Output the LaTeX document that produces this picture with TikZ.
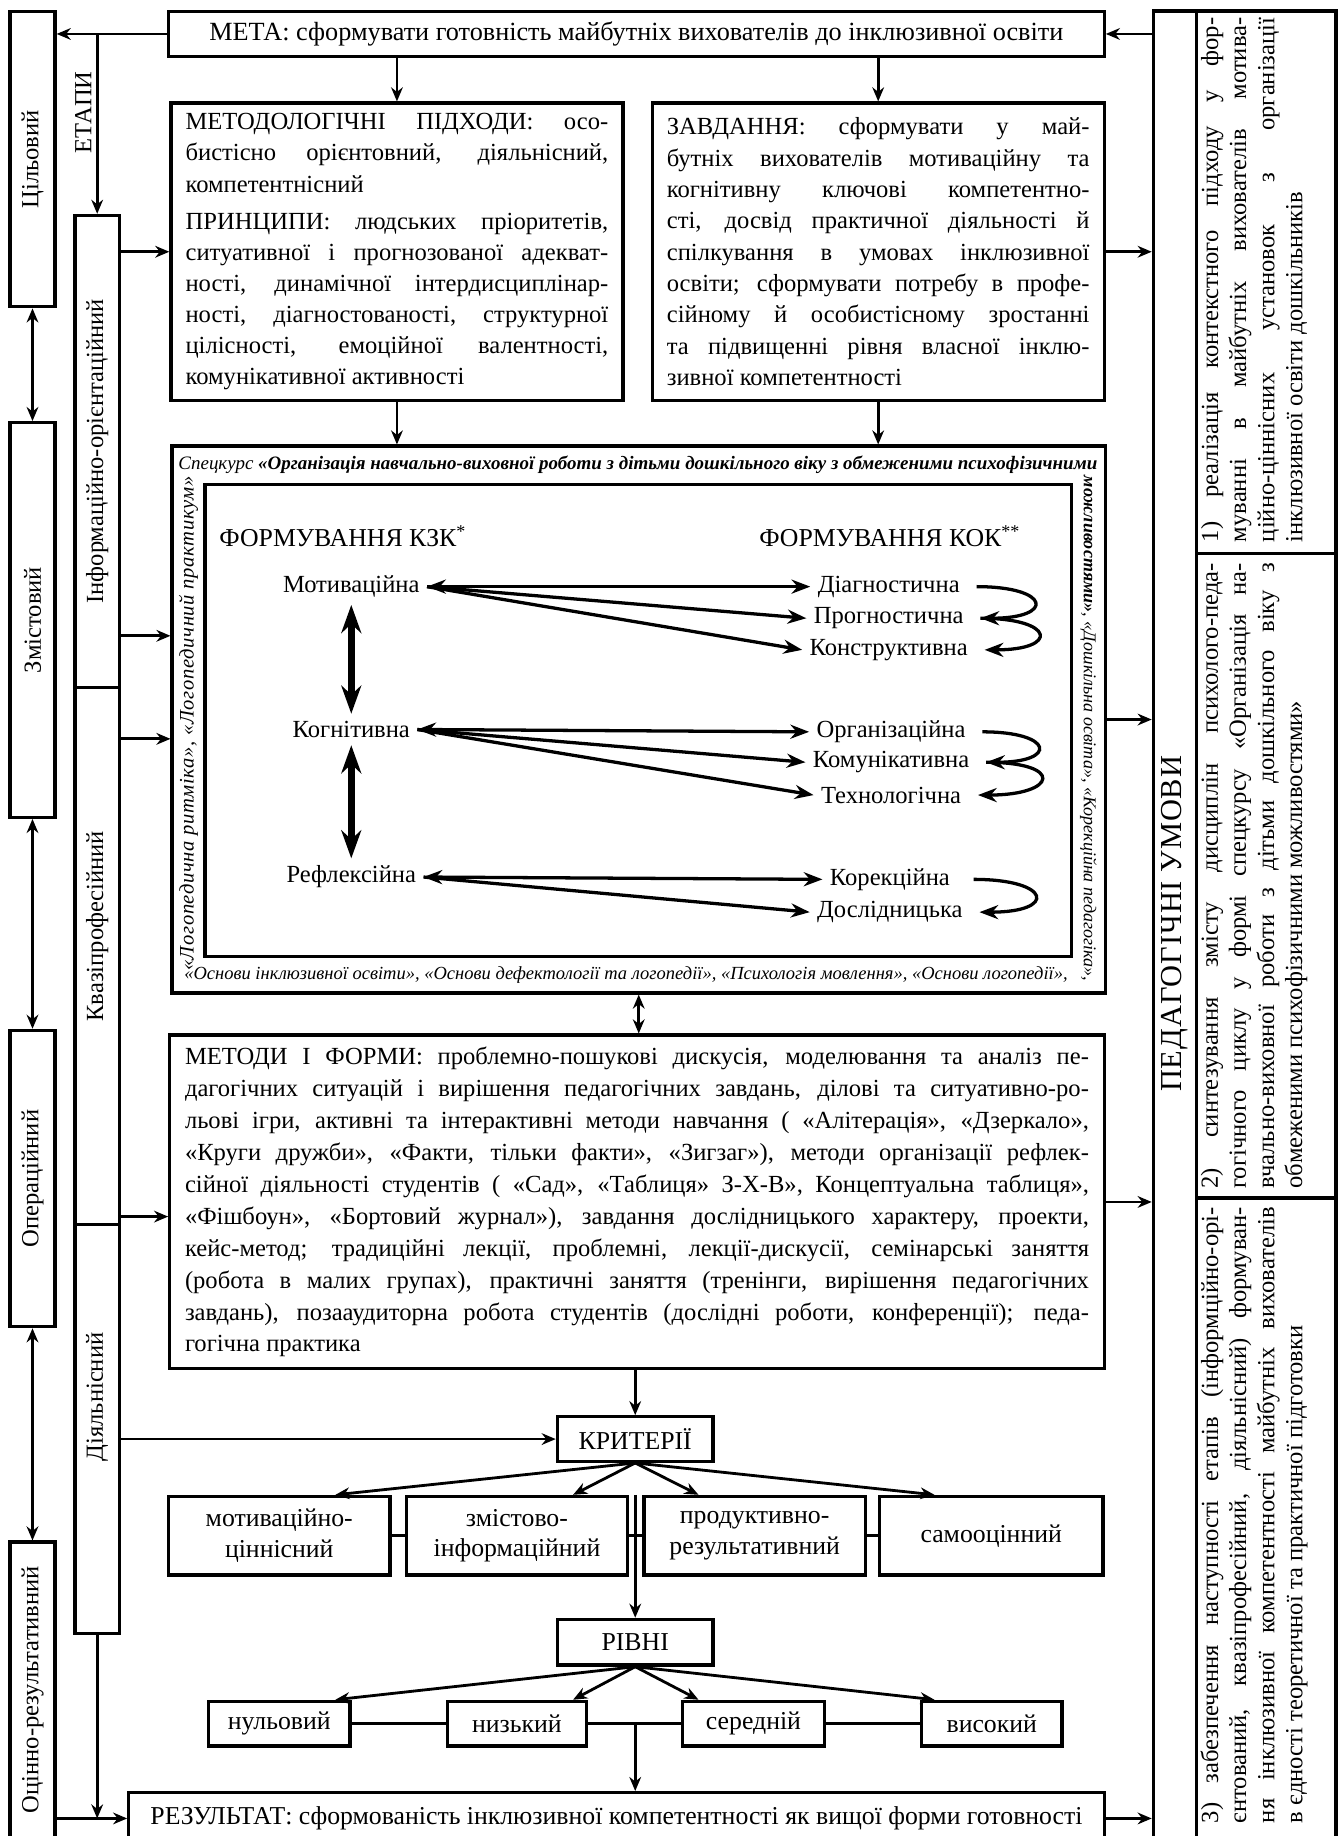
\documentclass[tikz,border=0pt]{standalone}
\usepackage{fontspec}
\setmainfont{Liberation Serif}
\newfontfamily\spacedfont[LetterSpace=3.0]{Liberation Serif}
\usetikzlibrary{arrows.meta,calc}
\hyphenpenalty=10000
\exhyphenpenalty=10000
\tolerance=9999

\begin{document}
\begin{tikzpicture}[x=0.5pt,y=-0.5pt,>={Stealth[length=6pt,width=5pt]},
  every node/.style={font=\fontsize{10.5}{12.8}\selectfont},
  frame/.style={draw,line width=1.4pt,inner sep=0pt},
  conn/.style={line width=1.2pt},
  lbl/.style={inner sep=3pt},
  inarrow/.style={line width=1.4pt,>={Stealth[length=8pt,width=6pt]}},
  dblarrow/.style={line width=2.8pt,>={Stealth[length=12pt,width=8.5pt]},<->}]
  \useasboundingbox (0,0) rectangle (1145,1568);
  \clip (0,0) rectangle (1145,1568);

  % stages
  \node[frame,minimum width=19.25pt,minimum height=126pt] (tsil) at (27.75,136) {};
  \node[frame,minimum width=19.25pt,minimum height=168.5pt] (zmist) at (27.75,529.5) {};
  \node[frame,minimum width=19.25pt,minimum height=126.5pt] (oper) at (27.75,1006.5) {};
  \node[frame,minimum width=19.25pt,minimum height=129pt] (otsin) at (27.75,1446) {};
  \node[rotate=90] (tsiltxt) at (tsil) {Цільовий};
  \node[rotate=90] (zmisttxt) at (zmist) {Змістовий};
  \node[rotate=90] (opertxt) at (oper) {Операційний};
  \node[rotate=90] (otsintxt) at (27.75,1443) {Оцінно-результативний};

  \node[frame,minimum width=19pt,minimum height=201.5pt] (inf) at (83,385.5) {};
  \node[frame,minimum width=19pt,minimum height=229.5pt] (kvazi) at (83,816.5) {};
  \node[frame,minimum width=19pt,minimum height=174.5pt] (diyal) at (83,1220.5) {};
  \node[rotate=90] (inftxt) at (inf) {Інформаційно-орієнтаційний};
  \node[rotate=90] (kvazitxt) at (83,791) {Квазіпрофесійний};
  \node[rotate=90] (diyaltxt) at (83,1193) {Діяльнісний};
  \node[rotate=90] (etapy) at (71,96) {ЕТАПИ};

  % goal, approaches, tasks
  \node[frame,minimum width=399.5pt,minimum height=19pt,font=\fontsize{11.2}{13}\selectfont] (meta) at (543.5,29) {МЕТА: сформувати готовність майбутніх вихователів до інклюзивної освіти};
  \node[frame,minimum width=193pt,minimum height=127pt,text width=180.5pt,align=justify,inner xsep=6.25pt,font=\fontsize{10.5}{13.3}\selectfont] (metod) at (339,215) {МЕТОДОЛОГІЧНІ ПІДХОДИ: осо-\linebreak
бистісно орієнтовний, діяльнісний,\linebreak
компетентнісний\par\vspace{2.5pt}
ПРИНЦИПИ: людських пріоритетів,\linebreak
ситуативної і прогнозованої адекват-\linebreak
ності, динамічної інтердисциплінар-\linebreak
ності, діагностованості, структурної\linebreak
цілісності, емоційної валентності,\linebreak
комунікативної активності};
  \node[frame,minimum width=193pt,minimum height=127pt,text width=180.5pt,align=justify,inner xsep=6.25pt,font=\fontsize{10.5}{13.4}\selectfont] (zavd) at (750,215) {ЗАВДАННЯ: сформувати у май-\linebreak
бутніх вихователів мотиваційну та\linebreak
когнітивну ключові компетентно-\linebreak
сті, досвід практичної діяльності й\linebreak
спілкування в умовах інклюзивної\linebreak
освіти; сформувати потребу в профе-\linebreak
сійному й особистісному зростанні\linebreak
та підвищенні рівня власної інклю-\linebreak
зивної компетентності};

  % special course
  \node[frame,minimum width=398.5pt,minimum height=233.5pt] (spec) at (545.5,614.5) {};
  \node[frame,minimum width=370pt,minimum height=201.5pt] (core) at (545,615.5) {};
  \node[anchor=west,inner sep=0pt,font=\fontsize{8.1}{10}\selectfont\itshape] (spectop) at (152,397) {Спецкурс \textbf{«Організація навчально-виховної роботи з дітьми дошкільного віку з обмеженими психофізичними}};
  \node[rotate=-90,inner sep=0pt,font=\fontsize{7.7}{10}\selectfont\itshape] (specright) at (929.5,622) {\textbf{можливостями»}, «Дошкільна освіта», «Корекційна педагогіка»,};
  \node[anchor=west,inner sep=0pt,font=\fontsize{7.9}{10}\selectfont\itshape] (specbottom) at (157,832.5) {«Основи інклюзивної освіти», «Основи дефектології та логопедії», «Психологія мовлення», «Основи логопедії»,};
  \node[rotate=90,inner sep=0pt,font=\fontsize{8.8}{10}\spacedfont\itshape] (specleft) at (161,618) {«Логопедична ритміка», «Логопедичний практикум»};

  \node[anchor=west,inner sep=0pt,font=\fontsize{11}{13}\selectfont] (kzk) at (187,458) {ФОРМУВАННЯ КЗК\textsuperscript{*}};
  \node[anchor=east,inner sep=0pt,font=\fontsize{11}{13}\selectfont] (kok) at (872,458) {ФОРМУВАННЯ КОК\textsuperscript{**}};
  \node[lbl] (motiv) at (300,501) {Мотиваційна};
  \node[lbl] (kogn) at (300,623) {Когнітивна};
  \node[lbl] (refl) at (300,749) {Рефлексійна};
  \node[lbl] (diag) at (759,501) {Діагностична};
  \node[lbl] (progn) at (759,528) {Прогностична};
  \node[lbl] (konstr) at (759,555) {Конструктивна};
  \node[lbl] (org) at (761,625) {Організаційна};
  \node[lbl] (komun) at (761,651) {Комунікативна};
  \node[lbl] (tekhn) at (761,679) {Технологічна};
  \node[lbl] (korek) at (760,751) {Корекційна};
  \node[lbl] (dosl) at (760,779) {Дослідницька};

  \draw[inarrow,<->] (motiv.east) -- (diag.west);
  \draw[inarrow,->] (motiv.east) -- (progn.west);
  \draw[inarrow,->] (motiv.east) -- (konstr.west);
  \draw[inarrow,<->] (kogn.east) -- (org.west);
  \draw[inarrow,->] (kogn.east) -- (komun.west);
  \draw[inarrow,->] (kogn.east) -- (tekhn.west);
  \draw[inarrow,<->] (refl.east) -- (korek.west);
  \draw[inarrow,->] (refl.east) -- (dosl.west);
  \draw[dblarrow] (motiv.south) -- (kogn.north);
  \draw[dblarrow] (kogn.south) -- (refl.north);
  \draw[inarrow,->] ([xshift=4pt]diag.east) to[out=0,in=0,looseness=6] ([xshift=4pt]progn.east);
  \draw[inarrow,->] ([xshift=4pt]progn.east) to[out=0,in=0,looseness=6] ([xshift=4pt]konstr.east);
  \draw[inarrow,->] ([xshift=4pt]org.east) to[out=0,in=0,looseness=6] ([xshift=4pt]komun.east);
  \draw[inarrow,->] ([xshift=4pt]komun.east) to[out=0,in=0,looseness=6] ([xshift=4pt]tekhn.east);
  \draw[inarrow,->] ([xshift=7pt]korek.east) to[out=0,in=0,looseness=6] ([xshift=4pt]dosl.east);

  % methods, criteria, levels, result
  \node[frame,minimum width=399pt,minimum height=142.5pt,text width=386pt,align=justify,inner xsep=6.5pt,font=\fontsize{10.5}{13.65}\selectfont] (metody) at (544,1026.5) {МЕТОДИ І ФОРМИ: проблемно-пошукові дискусія, моделювання та аналіз пе-\linebreak
дагогічних ситуацій і вирішення педагогічних завдань, ділові та ситуативно-ро-\linebreak
льові ігри, активні та інтерактивні методи навчання ( «Алітерація», «Дзеркало»,\linebreak
«Круги дружби», «Факти, тільки факти», «Зигзаг»), методи організації рефлек-\linebreak
сійної діяльності студентів ( «Сад», «Таблиця» З-Х-В», Концептуальна таблиця»,\linebreak
«Фішбоун», «Бортовий журнал»), завдання дослідницького характеру, проекти,\linebreak
кейс-метод; традиційні лекції, проблемні, лекції-дискусії, семінарські заняття\linebreak
(робота в малих групах), практичні заняття (тренінги, вирішення педагогічних\linebreak
завдань), позааудиторна робота студентів (дослідні роботи, конференції); педа-\linebreak
гогічна практика};
  \node[frame,minimum width=66.5pt,minimum height=19pt,font=\fontsize{11}{13}\selectfont] (krit) at (542.5,1229) {КРИТЕРІЇ};
  \node[frame,minimum width=94.5pt,minimum height=33.5pt,align=center,font=\fontsize{11}{13}\selectfont] (c1) at (238.5,1311.5) {мотиваційно-\\ціннісний};
  \node[frame,minimum width=94.5pt,minimum height=33.5pt,align=center,font=\fontsize{11}{13}\selectfont] (c2) at (441.5,1311.5) {змістово-\\інформаційний};
  \node[frame,minimum width=94.5pt,minimum height=33.5pt,align=center,font=\fontsize{11}{13}\selectfont] (c3) at (644.5,1311.5) {продуктивно-\\результативний};
  \node[frame,minimum width=95.5pt,minimum height=33.5pt,align=center,font=\fontsize{11}{13}\selectfont] (c4) at (846.5,1311.5) {самооцінний};
  \node[frame,minimum width=66.5pt,minimum height=19.5pt,font=\fontsize{11}{13}\selectfont] (rivni) at (542.5,1402.5) {РІВНІ};
  \node[frame,minimum width=60.5pt,minimum height=19pt,font=\fontsize{11}{13}\selectfont] (l1) at (238.5,1472) {нульовий};
  \node[frame,minimum width=59.5pt,minimum height=19pt,font=\fontsize{11}{13}\selectfont] (l2) at (441.5,1472) {низький};
  \node[frame,minimum width=60.5pt,minimum height=19pt,font=\fontsize{11}{13}\selectfont] (l3) at (643.5,1472) {середній};
  \node[frame,minimum width=60pt,minimum height=19pt,font=\fontsize{11}{13}\selectfont] (l4) at (847,1472) {високий};
  \node[frame,minimum width=416.5pt,minimum height=22pt,font=\fontsize{11}{13}\selectfont] (rez) at (526.5,1553) {РЕЗУЛЬТАТ: сформованість інклюзивної компетентності як вищої форми готовності};

  \coordinate (t1) at ($(c1.north)!.5!(c1.north east)$);
  \coordinate (t2) at ($(c2.north)!.5!(c2.north east)$);
  \coordinate (t3) at ($(c3.north)!.5!(c3.north west)$);
  \coordinate (t4) at ($(c4.north)!.5!(c4.north west)$);
  \foreach \t in {t1,t2,t3,t4} \draw[conn,->] (krit.south) -- (\t);
  \foreach \t/\l in {t1/l1,t2/l2,t3/l3,t4/l4} \draw[conn,->] (rivni.south) -- (\t |- \l.north);
  \draw[conn] (c1.east) -- (c2.west) (c2.east) -- (c3.west) (c3.east) -- (c4.west);
  \draw[conn] (l1.east) -- (l2.west) (l2.east) -- (l3.west) (l3.east) -- (l4.west);
  \draw[conn,->] (c2.north east -| krit.south) -- (rivni.north);
  \coordinate (lmid) at (l2.east -| rivni.south);
  \draw[conn,->] (lmid) -- (lmid |- rez.north);

  % conditions
  \node[frame,minimum width=78pt,minimum height=785.25pt] (umovy) at (1063,794.75) {};
  \node[frame,minimum width=59.5pt,minimum height=231.75pt] (cond1) at (1081.5,241.25) {};
  \node[frame,minimum width=59.5pt,minimum height=275pt] (cond2) at (1081.5,748) {};
  \node[frame,minimum width=59.5pt,minimum height=278.5pt] (cond3) at (1081.5,1301.5) {};
  \node[rotate=90,font=\fontsize{13}{15}\spacedfont] (umovytxt) at (1003.5,789) {ПЕДАГОГІЧНІ УМОВИ};
  \node[rotate=90,text width=224pt,align=justify,inner sep=0pt,font=\fontsize{10.5}{12}\selectfont] (cond1txt) at (1071,239) {1) реалізація контекстного підходу у фор-\linebreak
муванні в майбутніх вихователів мотива-\linebreak
ційно-ціннісних установок з організації\linebreak
інклюзивної освіти дошкільників};
  \node[rotate=90,text width=267pt,align=justify,inner sep=0pt,font=\fontsize{10.5}{12}\selectfont] (cond2txt) at (1071,748) {2) синтезування змісту дисциплін психолого-педа-\linebreak
гогічного циклу у формі спецкурсу «Організація на-\linebreak
вчально-виховної роботи з дітьми дошкільного віку з\linebreak
обмеженими психофізичними можливостями»};
  \node[rotate=90,text width=263pt,align=justify,inner sep=0pt,font=\fontsize{10.5}{12}\selectfont] (cond3txt) at (1071,1294) {3) забезпечення наступності етапів (інформційно-орі-\linebreak
єнтований, квазіпрофесійний, діяльнісний) формуван-\linebreak
ня інклюзивної компетентності майбутніх вихователів\linebreak
в єдності теоретичної та практичної підготовки};

  % connectors
  \draw[conn,->] (meta.west) -- (meta.west -| tsil.east);
  \draw[conn,->] (meta.west -| inf.north) -- (inf.north);
  \draw[conn,<->] (tsil.south) -- (zmist.north);
  \draw[conn,<->] (zmist.south) -- (oper.north);
  \draw[conn,<->] (oper.south) -- (otsin.north);
  \draw[conn,->] (metod.west -| inf.east) -- (metod.west);
  \coordinate (s1) at ([yshift=35.75pt]spec.west);
  \coordinate (s2) at ([yshift=-8.25pt]spec.west);
  \coordinate (s3) at ([yshift=-6.25pt]metody.west);
  \draw[conn,->] (s1 -| inf.east) -- (s1);
  \draw[conn,->] (s2 -| kvazi.east) -- (s2);
  \draw[conn,->] (s3 -| kvazi.east) -- (s3);
  \draw[conn,->] (krit.west -| diyal.east) -- (krit.west);
  \draw[conn,->] (diyal.south) -- (diyal.south |- rez.west);
  \draw[conn,->] (rez.west -| otsin.east) -- (rez.west);

  \draw[conn,->] (meta.south -| metod.north) -- (metod.north);
  \draw[conn,->] (meta.south -| zavd.north) -- (zavd.north);
  \draw[conn,->] (metod.south) -- (metod.south |- spec.north);
  \draw[conn,->] (zavd.south) -- (zavd.south |- spec.north);
  \draw[conn,<->] (spec.south) -- (spec.south |- metody.north);
  \draw[conn,->] (metody.south -| krit.north) -- (krit.north);

  \draw[conn,->] (meta.east -| umovy.west) -- (meta.east);
  \draw[conn,->] (zavd.east) -- (zavd.east -| umovy.west);
  \draw[conn,->] (spec.east) -- (spec.east -| umovy.west);
  \draw[conn,->] (metody.east) -- (metody.east -| umovy.west);
  \draw[conn,->] (rez.east) -- (rez.east -| umovy.west);
\end{tikzpicture}
\end{document}
